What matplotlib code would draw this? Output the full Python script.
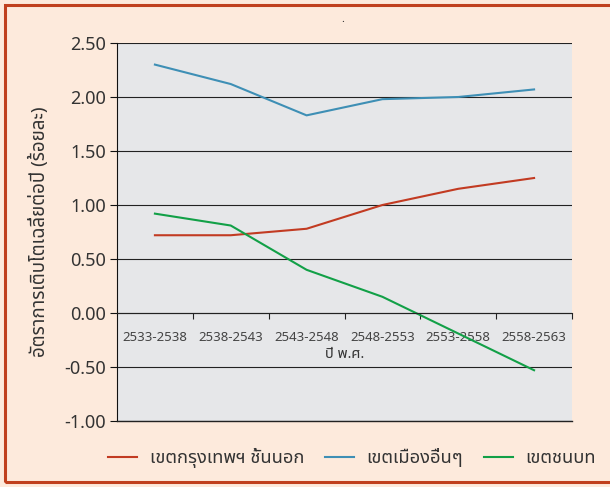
import matplotlib
matplotlib.use("Agg")
import matplotlib.pyplot as plt
from matplotlib.patches import Rectangle

plt.rcParams['font.family'] = ['Noto Sans', 'Noto Sans Thai', 'DejaVu Sans']

# data
periods = ['2533-2538', '2538-2543', '2543-2548', '2548-2553', '2553-2558', '2558-2563']
bkk_outer = [0.72, 0.72, 0.78, 1.00, 1.15, 1.25]
other_cities = [2.30, 2.12, 1.83, 1.98, 2.00, 2.07]
rural = [0.92, 0.81, 0.40, 0.15, -0.19, -0.53]
series_names = ['เขตกรุงเทพฯ ชั้นนอก', 'เขตเมืองอื่นๆ', 'เขตชนบท']
yticks = [-1.0, -0.5, 0.0, 0.5, 1.0, 1.5, 2.0, 2.5]

W, H = 610, 487
fig = plt.figure(figsize=(W / 100, H / 100), dpi=100)
fig.patch.set_facecolor('#FDEADC')

# frame around the figure
fig.patches.append(Rectangle((5 / W, 5 / H), 1.2, 1 - 10 / H, transform=fig.transFigure,
                             fill=False, edgecolor='#C0401E', linewidth=2.2))

ax = fig.add_axes([117 / W, 1 - 421 / H, 455 / W, 378 / H])
ax.set_facecolor('#E6E7E9')

x = list(range(len(periods)))
colors = ['#C23B22', '#3E8FB5', '#12A047']
for vals, c, name in zip([bkk_outer, other_cities, rural], colors, series_names):
    ax.plot(x, vals, color=c, linewidth=1.5, label=name)

ax.set_xlim(-0.5, len(periods) - 0.5)
ax.set_ylim(-1.0, 2.5)
ax.set_yticks(yticks)
ax.set_yticklabels([f'{v:.2f}' for v in yticks], fontsize=13, color='#333333')
ax.yaxis.grid(True, color='#222222', linewidth=0.8)
ax.set_axisbelow(True)
ax.axhline(yticks[0], color='#222222', linewidth=1.0, clip_on=False, zorder=3)

for s in ['top', 'right']:
    ax.spines[s].set_visible(False)
ax.spines['left'].set_color('#111111')
ax.spines['bottom'].set_position(('data', 0))
ax.spines['bottom'].set_color('#222222')
ax.spines['bottom'].set_linewidth(0.8)

ax.tick_params(axis='y', direction='out', length=5, color='#111111', pad=3)
ax.set_xticks([i + 0.5 for i in x])
ax.set_xticklabels([])
ax.set_xticks(x, minor=True)
ax.set_xticklabels(periods, minor=True, fontsize=9.5, color='#444444')
ax.tick_params(axis='x', which='major', direction='out', length=4, color='#222222')
ax.tick_params(axis='x', which='minor', length=0, pad=13)

ax.text(2.5, -0.385, 'ปี พ.ศ.', ha='center', va='center', fontsize=10.5, color='#333333')
ax.set_ylabel('อัตราการเติบโตเฉลี่ยต่อปี (ร้อยละ)', fontsize=13.5, color='#333333', labelpad=11)

fig.text(343 / W, 1 - 20 / H, '.', ha='center', va='center', fontsize=8, color='#333333')

fig.legend(loc='center', bbox_to_anchor=(352 / W, 1 - 458 / H), ncol=3, frameon=False,
           fontsize=13.2, handlelength=1.6, columnspacing=1.1, handletextpad=0.7,
           labelcolor='#333333')

fig.savefig('out.png', facecolor=fig.get_facecolor())
